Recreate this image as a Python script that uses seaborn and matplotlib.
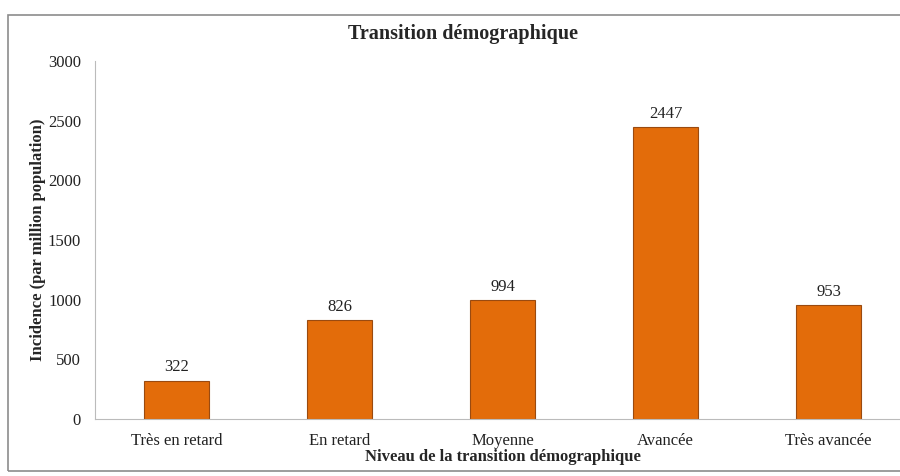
import matplotlib
matplotlib.use("Agg")
import matplotlib.pyplot as plt
import seaborn as sns
import pandas as pd
from matplotlib.patches import Rectangle

# Données
niveaux = ["Très en retard", "En retard", "Moyenne", "Avancée", "Très avancée"]
incidence = [322, 826, 994, 2447, 953]
yticks = [0, 500, 1000, 1500, 2000, 2500, 3000]

df = pd.DataFrame({"niveau": niveaux, "incidence": incidence})

sns.set_style("white")
plt.rcParams["font.family"] = ["Liberation Serif", "DejaVu Serif"]

fig = plt.figure(figsize=(9, 4.76), dpi=100)
# cadre gris autour du graphique
fig.patches.append(Rectangle((8 / 900, 5 / 476), 1.2, 456 / 476, transform=fig.transFigure,
                             fill=False, edgecolor="#8c8c8c", linewidth=1.2, zorder=0))

ax = fig.add_axes([95 / 900, 57 / 476, 815 / 900, 358 / 476])
sns.barplot(data=df, x="niveau", y="incidence", color="#E36C0A", width=0.4,
            edgecolor="#9a4a10", linewidth=0.8, saturation=1, ax=ax)

for i, v in enumerate(incidence):
    ax.text(i, v + 45, str(v), ha="center", va="bottom", fontsize=12, color="#222222")

ax.set_ylim(0, 3000)
ax.set_yticks(yticks)
ax.set_xlim(-0.5, len(niveaux) - 0.5)
ax.tick_params(axis="y", labelsize=12, length=4, pad=6, color="#bbbbbb", labelcolor="#222222")
ax.set_xticks(range(len(niveaux)))
ax.set_xticklabels(niveaux)
ax.tick_params(axis="x", which="major", length=0, labelsize=12, pad=10, labelcolor="#222222")
ax.set_xticks([i + 0.5 for i in range(-1, len(niveaux))], minor=True)
ax.tick_params(axis="x", which="minor", length=5, color="#bbbbbb")

for s in ["top", "right"]:
    ax.spines[s].set_visible(False)
ax.spines["left"].set_color("#bbbbbb")
ax.spines["bottom"].set_color("#bbbbbb")

ax.set_xlabel("Niveau de la transition démographique", fontsize=12, fontweight="bold", labelpad=0)
ax.set_ylabel("Incidence (par million population)", fontsize=12, fontweight="bold", labelpad=1)
fig.text(463 / 900, 1 - 34 / 476, "Transition démographique", ha="center", va="center",
         fontsize=14.5, fontweight="bold")

fig.savefig("out.png", dpi=100)
